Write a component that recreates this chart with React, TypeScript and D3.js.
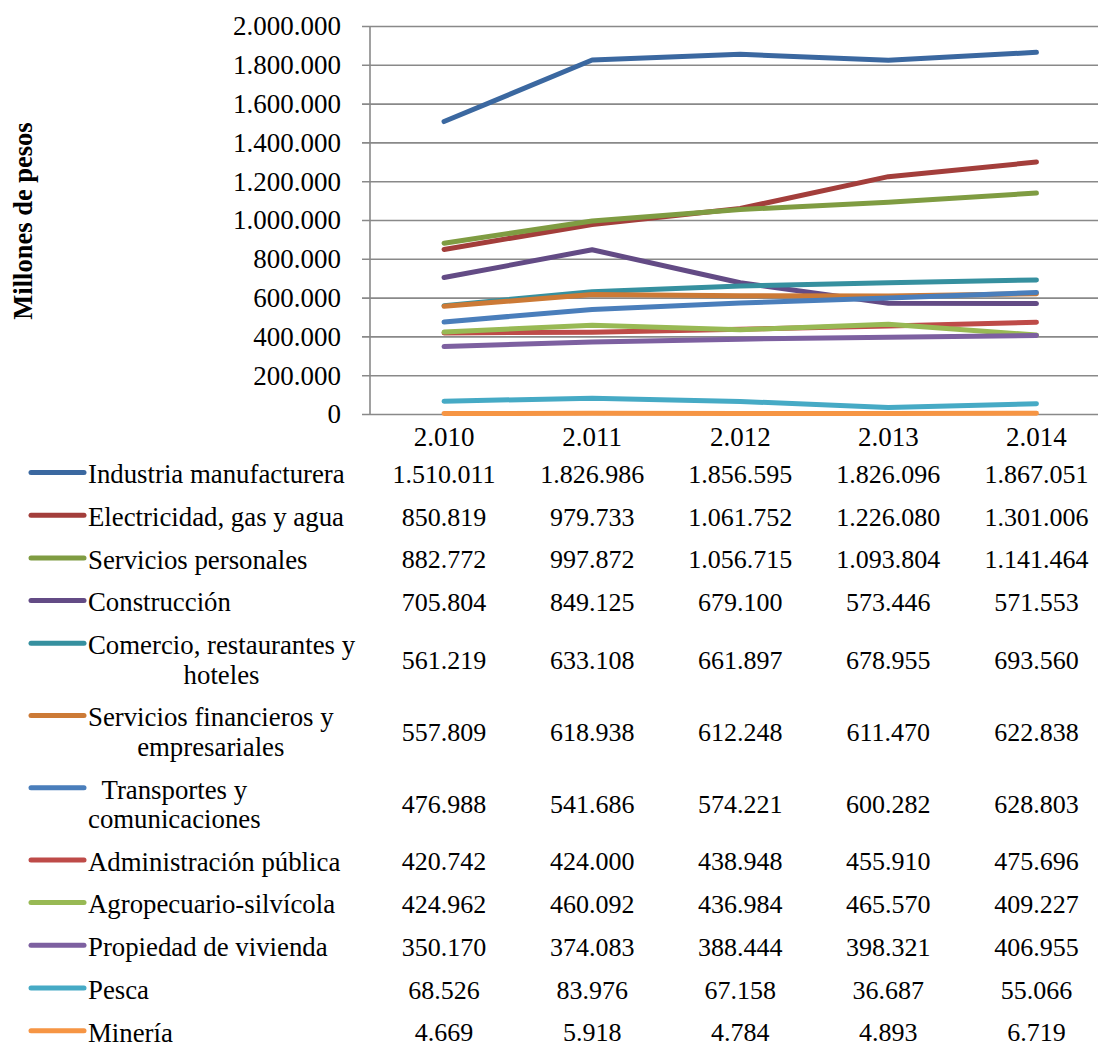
import React, { useMemo } from "react";
import * as d3 from "d3";

const years = ["2.010", "2.011", "2.012", "2.013", "2.014"];
const yTicks = [0, 200000, 400000, 600000, 800000, 1000000, 1200000, 1400000, 1600000, 1800000, 2000000];

const seriesNames: string[][] = [
  ["Industria manufacturera"],
  ["Electricidad, gas y agua"],
  ["Servicios personales"],
  ["Construcción"],
  ["Comercio, restaurantes y", "hoteles"],
  ["Servicios financieros y", "empresariales"],
  ["Transportes y", "comunicaciones"],
  ["Administración pública"],
  ["Agropecuario-silvícola"],
  ["Propiedad de vivienda"],
  ["Pesca"],
  ["Minería"],
];

const industria = [1510011, 1826986, 1856595, 1826096, 1867051];
const electricidad = [850819, 979733, 1061752, 1226080, 1301006];
const serviciosPersonales = [882772, 997872, 1056715, 1093804, 1141464];
const construccion = [705804, 849125, 679100, 573446, 571553];
const comercio = [561219, 633108, 661897, 678955, 693560];
const financieros = [557809, 618938, 612248, 611470, 622838];
const transportes = [476988, 541686, 574221, 600282, 628803];
const administracion = [420742, 424000, 438948, 455910, 475696];
const agropecuario = [424962, 460092, 436984, 465570, 409227];
const vivienda = [350170, 374083, 388444, 398321, 406955];
const pesca = [68526, 83976, 67158, 36687, 55066];
const mineria = [4669, 5918, 4784, 4893, 6719];

const seriesValues = [
  industria, electricidad, serviciosPersonales, construccion, comercio, financieros,
  transportes, administracion, agropecuario, vivienda, pesca, mineria,
];

const colors = [
  "#3B68A0", "#A33E3B", "#7F9C42", "#634B85", "#36909F", "#CC7A36",
  "#4A7EBB", "#BE4B48", "#98B954", "#7D60A0", "#46AAC5", "#F69544",
];

const W = 1098;
const H = 1049;
const FONT = '"Liberation Serif", "Times New Roman", Times, serif';
const FS = 26;
const FS_LABEL = 26.8;
const FS_TICK = 27;

const loc = d3.formatLocale({ decimal: ",", thousands: ".", grouping: [3], currency: ["", ""] });
const fmt = loc.format(",d");

function measure(text: string, font: string): number {
  const c = document.createElement("canvas").getContext("2d");
  if (!c) return text.length * FS * 0.45;
  c.font = font;
  return c.measureText(text).width;
}

export default function App() {
  const plotLeft = 370;
  const band = 148.1;
  const plotRight = plotLeft + band * years.length;
  const x = d3.scaleBand<string>().domain(years).range([plotLeft, plotRight]).padding(0);
  const cx = (yr: string) => (x(yr) as number) + x.bandwidth() / 2;
  const y = d3.scaleLinear().domain([0, 2000000]).range([414.5, 26.5]);

  const line = d3
    .line<number>()
    .x((_, i) => cx(years[i]))
    .y((v) => y(v));

  const rows = useMemo(() => {
    const singleH = 42.7;
    const lineGap = 29.5;
    let cursor = 474.5 - singleH / 2;
    return seriesNames.map((lines) => {
      const h = singleH + (lines.length - 1) * lineGap;
      const center = cursor + h / 2;
      cursor += h;
      const widths = lines.map((l) => measure(l, `${FS_LABEL}px ${FONT}`));
      const maxW = Math.max(...widths);
      return { lines, center, maxW };
    });
  }, []);

  const labelLeft = 88;
  const txt = { fontFamily: FONT } as React.CSSProperties;

  return (
    <svg
      width={W}
      height={H}
      style={{ position: "absolute", left: 0, top: 0, background: "#fff", fontFamily: FONT }}
    >
      <rect x={0} y={0} width={W} height={H} fill="#fff" />
      {yTicks.map((t) => (
        <line key={t} x1={362} x2={plotRight} y1={y(t)} y2={y(t)} stroke="#898989" strokeWidth={1.6} />
      ))}
      <line x1={plotLeft} x2={plotLeft} y1={y(0)} y2={y(2000000)} stroke="#898989" strokeWidth={1.6} />
      {yTicks.map((t) => (
        <text key={t} x={341} y={y(t)} dy="0.33em" textAnchor="end" fontSize={FS_TICK} fill="#000" style={txt}>
          {fmt(t)}
        </text>
      ))}
      <text
        transform={`translate(32,221) rotate(-90)`}
        textAnchor="middle"
        fontSize={26.5}
        fontWeight="bold"
        fill="#000"
        style={txt}
      >
        Millones de pesos
      </text>
      {years.map((yr) => (
        <text key={yr} x={cx(yr)} y={437} dy="0.33em" textAnchor="middle" fontSize={FS_TICK} fill="#000" style={txt}>
          {yr}
        </text>
      ))}
      {seriesValues.map((vals, i) => (
        <path
          key={i}
          d={line(vals) || ""}
          fill="none"
          stroke={colors[i]}
          strokeWidth={5}
          strokeLinecap="round"
          strokeLinejoin="round"
        />
      ))}
      {rows.map((r, i) => {
        const half = 14.75;
        const firstLineY = r.lines.length > 1 ? r.center - half : r.center;
        return (
          <g key={i}>
            <line
              x1={31}
              x2={84}
              y1={firstLineY - 2}
              y2={firstLineY - 2}
              stroke={colors[i]}
              strokeWidth={5}
              strokeLinecap="round"
            />
            {r.lines.map((l, j) =>
              r.lines.length === 1 ? (
                <text key={j} x={labelLeft} y={r.center} dy="0.33em" fontSize={FS_LABEL} fill="#000" style={txt}>
                  {l}
                </text>
              ) : (
                <text
                  key={j}
                  x={labelLeft + r.maxW / 2}
                  y={r.center - half + j * 2 * half}
                  dy="0.33em"
                  textAnchor="middle"
                  fontSize={FS_LABEL}
                  fill="#000"
                  style={txt}
                >
                  {l}
                </text>
              )
            )}
            {seriesValues[i].map((v, k) => (
              <text
                key={k}
                x={cx(years[k])}
                y={r.center}
                dy="0.33em"
                textAnchor="middle"
                fontSize={FS}
                fill="#000"
                style={txt}
              >
                {fmt(v)}
              </text>
            ))}
          </g>
        );
      })}
    </svg>
  );
}
